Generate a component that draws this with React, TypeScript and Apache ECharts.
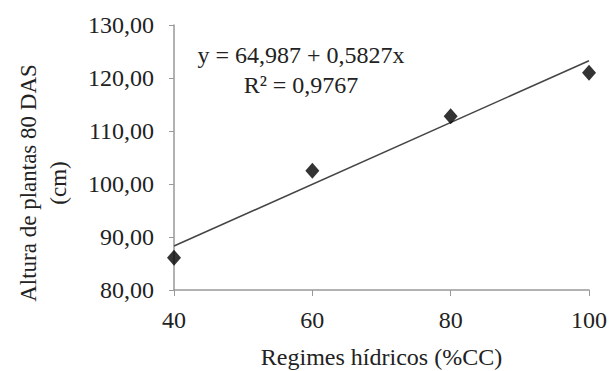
import React, { useEffect, useRef } from "react";
import * as echarts from "echarts";

const regimes = [40, 60, 80, 100];
const heights = [86.1, 102.5, 112.8, 121.0];
const intercept = 64.987;
const slope = 0.5827;
const yTicks = { min: 80, max: 130, interval: 10 };
const xTicks = { min: 40, max: 100, interval: 20 };
const eqText = "y = 64,987 + 0,5827x";
const r2Text = "R² = 0,9767";
const xTitle = "Regimes hídricos (%CC)";
const yTitle = ["Altura de plantas 80 DAS", "(cm)"];

export default function App() {
  const ref = useRef<HTMLDivElement>(null);
  useEffect(() => {
    if (!ref.current) return;
    document.body.style.margin = "0";
    document.body.style.overflow = "hidden";
    const chart = echarts.init(ref.current, null, { renderer: "svg" });
    const font = "'Liberation Serif', 'Times New Roman', serif";
    const fitLine = [xTicks.min, xTicks.max].map((x) => [x, intercept + slope * x]);
    chart.setOption({
      animation: false,
      backgroundColor: "#fff",
      grid: {
        left: 174,
        right: 21,
        top: 25,
        bottom: 81,
        containLabel: false,
        outerBoundsMode: "none",
      },
      xAxis: {
        type: "value",
        min: xTicks.min,
        max: xTicks.max,
        interval: xTicks.interval,
        splitLine: { show: false },
        axisLine: { lineStyle: { color: "#999", width: 1.5 } },
        axisTick: { show: true, length: 6, lineStyle: { color: "#999" } },
        axisLabel: { color: "#222", fontFamily: font, fontSize: 24, margin: 18 },
        name: xTitle,
        nameLocation: "middle",
        nameGap: 55,
        nameTextStyle: { color: "#222", fontFamily: font, fontSize: 24 },
      },
      yAxis: {
        type: "value",
        min: yTicks.min,
        max: yTicks.max,
        interval: yTicks.interval,
        splitLine: { show: false },
        axisLine: { show: true, lineStyle: { color: "#999", width: 1.5 } },
        axisTick: { show: true, length: 5, lineStyle: { color: "#999" } },
        axisLabel: {
          color: "#222",
          fontFamily: font,
          fontSize: 24,
          margin: 20,
          formatter: (v: number) => v.toFixed(2).replace(".", ","),
        },
      },
      graphic: [
        {
          type: "text",
          x: 28,
          y: 183,
          rotation: Math.PI / 2,
          style: {
            text: yTitle[0],
            fontFamily: font,
            fontSize: 23,
            fill: "#222",
            align: "center",
            verticalAlign: "middle",
          },
        },
        {
          type: "text",
          x: 58,
          y: 183,
          rotation: Math.PI / 2,
          style: {
            text: yTitle[1],
            fontFamily: font,
            fontSize: 23,
            fill: "#222",
            align: "center",
            verticalAlign: "middle",
          },
        },
        {
          type: "text",
          x: 301,
          y: 55,
          style: {
            text: eqText,
            fontFamily: font,
            fontSize: 24,
            fill: "#222",
            align: "center",
            verticalAlign: "middle",
          },
        },
        {
          type: "text",
          x: 301,
          y: 85,
          style: {
            text: r2Text,
            fontFamily: font,
            fontSize: 24,
            fill: "#222",
            align: "center",
            verticalAlign: "middle",
          },
        },
      ],
      series: [
        {
          type: "line",
          data: fitLine,
          showSymbol: false,
          symbol: "none",
          lineStyle: { color: "#444", width: 1.5 },
          z: 2,
        },
        {
          type: "scatter",
          data: regimes.map((x, i) => [x, heights[i]]),
          symbol: "diamond",
          symbolSize: [14, 16],
          itemStyle: { color: "#000" },
          z: 3,
        },
      ],
    });
    return () => chart.dispose();
  }, []);
  return <div ref={ref} style={{ width: 610, height: 371 }} />;
}
